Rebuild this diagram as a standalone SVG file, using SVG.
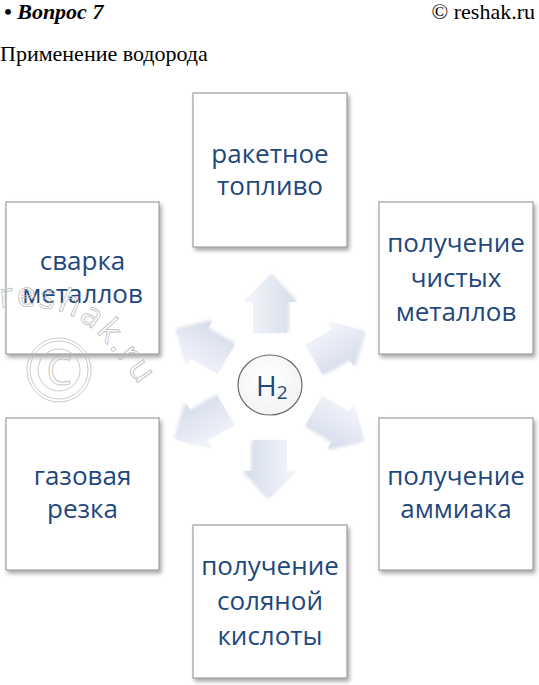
<svg xmlns="http://www.w3.org/2000/svg" width="539" height="685" viewBox="0 0 539 685">
<style>
.hdr{font-family:"Liberation Serif",serif;font-size:22px;fill:#000}
.box{fill:#fff;stroke:#8c8c8c;stroke-width:1}
.lbl{font-family:"Open Sans","Noto Sans",sans-serif;font-size:26px;fill:#1f487c;text-anchor:middle}
.arr{fill:url(#ag);stroke:none}
.wm{fill:none;stroke:#bdbdbd;stroke-width:0.8}
</style>
<defs>
<filter id="sh" x="-10%" y="-10%" width="130%" height="130%">
<feDropShadow dx="2" dy="3" stdDeviation="2" flood-color="#000" flood-opacity="0.35"/>
</filter>
<filter id="ash" x="-20%" y="-20%" width="150%" height="150%">
<feDropShadow dx="1" dy="2" stdDeviation="1.5" flood-color="#8090b0" flood-opacity="0.25"/>
</filter>
<linearGradient id="ag" x1="0" y1="0" x2="0" y2="1">
<stop offset="0" stop-color="#f4f6fb"/>
<stop offset="1" stop-color="#d6dcec"/>
</linearGradient>
<radialGradient id="cg" cx="0.45" cy="0.4" r="0.7">
<stop offset="0" stop-color="#ffffff"/>
<stop offset="1" stop-color="#f0f1f4"/>
</radialGradient>
<path id="arrow" d="M-29,-17 L2,-17 L2,-26 L29,0 L2,26 L2,17 L-29,17 Z"/>
<path id="wmpath" d="M0,308 C45,302 78,312 103,340 S145,392 160,418"/>
</defs>

<g id="header">
<text class="hdr" x="4" y="19" font-weight="bold" font-style="italic">• Вопрос 7</text>
<text class="hdr" x="535" y="19" text-anchor="end">© reshak.ru</text>
<text class="hdr" x="0" y="61">Применение водорода</text>
</g>

<g id="connectors">
<use href="#arrow" class="arr" filter="url(#ash)" transform="translate(270,304) rotate(-90)"/>
<use href="#arrow" class="arr" filter="url(#ash)" transform="translate(339,345) rotate(-30)"/>
<use href="#arrow" class="arr" filter="url(#ash)" transform="translate(339,425) rotate(30)"/>
<use href="#arrow" class="arr" filter="url(#ash)" transform="translate(270,469) rotate(90)"/>
<use href="#arrow" class="arr" filter="url(#ash)" transform="translate(201,425) rotate(150)"/>
<use href="#arrow" class="arr" filter="url(#ash)" transform="translate(201,345) rotate(210)"/>
</g>

<g id="n-h2">
<ellipse cx="270" cy="385" rx="32" ry="30" fill="url(#cg)" stroke="#6b6b6b" stroke-width="1.2"/>
<text x="256" y="396" font-family="Open Sans, Noto Sans, sans-serif" font-size="28" fill="#1f487c">H<tspan font-size="19" dy="3">2</tspan></text>
</g>

<g id="n-rocket">
<rect class="box" x="193" y="93" width="154" height="154" filter="url(#sh)"/>
<text class="lbl" x="270" y="163">ракетное</text>
<text class="lbl" x="270" y="195">топливо</text>
</g>

<g id="n-welding">
<rect class="box" x="6" y="202" width="153" height="152" filter="url(#sh)"/>
<text class="lbl" x="82.5" y="270">сварка</text>
<text class="lbl" x="82.5" y="303">металлов</text>
</g>

<g id="n-metals">
<rect class="box" x="379" y="202" width="154" height="152" filter="url(#sh)"/>
<text class="lbl" x="456" y="252">получение</text>
<text class="lbl" x="456" y="287">чистых</text>
<text class="lbl" x="456" y="321">металлов</text>
</g>

<g id="n-cutting">
<rect class="box" x="6" y="418" width="153" height="152" filter="url(#sh)"/>
<text class="lbl" x="82.5" y="485">газовая</text>
<text class="lbl" x="82.5" y="518">резка</text>
</g>

<g id="n-ammonia">
<rect class="box" x="379" y="418" width="154" height="152" filter="url(#sh)"/>
<text class="lbl" x="456" y="485">получение</text>
<text class="lbl" x="456" y="518">аммиака</text>
</g>

<g id="n-hcl">
<rect class="box" x="193" y="525" width="154" height="153" filter="url(#sh)"/>
<text class="lbl" x="270" y="575">получение</text>
<text class="lbl" x="270" y="610">соляной</text>
<text class="lbl" x="270" y="645">кислоты</text>
</g>

<g id="watermark">
<text class="wm" font-family="Open Sans, sans-serif" font-size="34" letter-spacing="2.5"><textPath href="#wmpath">reshak.ru</textPath></text>
<circle class="wm" cx="59" cy="370" r="32"/>
<circle class="wm" cx="59" cy="370" r="29"/>
<circle class="wm" cx="59" cy="370" r="21"/>
<text class="wm" x="59" y="385" text-anchor="middle" font-family="Open Sans, sans-serif" font-size="40">C</text>
</g>
</svg>
